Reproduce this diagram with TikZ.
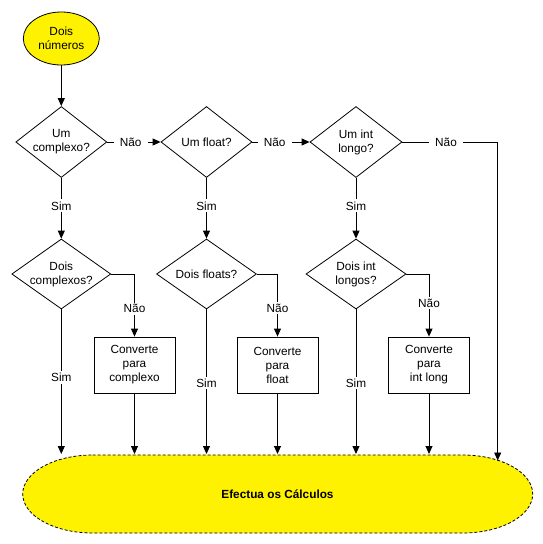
\documentclass[tikz,border=0pt]{standalone}
\usepackage{fontspec}
\setmainfont{Liberation Sans}
\usetikzlibrary{shapes.geometric,arrows.meta}
\begin{document}
\begin{tikzpicture}[x=1pt,y=-1pt,
  every node/.style={font=\fontsize{11.8pt}{14pt}\selectfont, text=black},
  startnode/.style={ellipse, draw=black, line width=0.8pt, fill=yellow, minimum width=76pt, minimum height=53pt, inner sep=0pt, align=center},
  dia/.style={diamond, draw=black, line width=0.8pt, fill=white, inner sep=0pt, align=center},
  procbox/.style={rectangle, draw=black, line width=0.8pt, fill=white, minimum width=81pt, minimum height=56pt, inner sep=0pt, align=center},
  lbl/.style={fill=white, inner xsep=6pt, inner ysep=2pt},
  conn/.style={draw=black, line width=0.9pt, -{Triangle[length=8pt,width=7pt]}},
  endshape/.style={draw=black, line width=0.8pt, dash pattern=on 3pt off 2pt, fill=yellow}
]
\useasboundingbox[fill=white] (0,0) rectangle (543,544);

% bottom terminal shape
\path[endshape] (92.7,455) -- (462.7,455)
  .. controls (501.36,455) and (532.7,472.46) .. (532.7,494)
  .. controls (532.7,515.54) and (501.36,533) .. (462.7,533)
  -- (92.7,533)
  .. controls (54.04,533) and (22.7,515.54) .. (22.7,494)
  .. controls (22.7,472.46) and (54.04,455) .. (92.7,455) -- cycle;
\node (calc) at (277.5,494) {\bfseries Efectua os Cálculos};

% nodes
\node[startnode] (start) at (61.3,38.5) {Dois\\números};
\node[dia, minimum width=91pt, minimum height=71pt, aspect=1.28] (d1) at (61.3,142) {Um\\complexo?};
\node[dia, minimum width=91pt, minimum height=71pt, aspect=1.28] (d2) at (206.5,142) {Um float?};
\node[dia, minimum width=92pt, minimum height=71pt, aspect=1.28] (d3) at (356,142) {Um int\\longo?};
\node[dia, minimum width=99pt, minimum height=70pt, aspect=1.41] (d4) at (61.3,274) {Dois\\complexos?};
\node[dia, minimum width=100pt, minimum height=70pt, aspect=1.41] (d5) at (206.5,274) {Dois floats?};
\node[dia, minimum width=100pt, minimum height=70pt, aspect=1.41] (d6) at (356,274) {Dois int\\longos?};
\node[procbox] (b1) at (134.5,365) {Converte\\para\\complexo};
\node[procbox] (b2) at (277.5,365) {Converte\\para\\float};
\node[procbox] (b3) at (429,365) {Converte\\para\\int long};

% arrow ends on the terminal
\coordinate (e1) at (61.3,454);
\coordinate (e2) at (134.5,454);
\coordinate (e3) at (206.5,454);
\coordinate (e4) at (277.5,454);
\coordinate (e5) at (356,454);
\coordinate (e6) at (429,454);
\coordinate (e7) at (497.7,460.5);

% connectors
\draw[conn] (start) -- (d1);
\draw[conn] (d1) -- node[lbl,pos=0.44]{Não} (d2);
\draw[conn] (d2) -- node[lbl,pos=0.39]{Não} (d3);
\draw[conn] (d3.east) -| node[lbl,pos=0.229]{Não} (e7);
\draw[conn] (d1) -- node[lbl,pos=0.46]{Sim} (d4);
\draw[conn] (d2) -- node[lbl,pos=0.46]{Sim} (d5);
\draw[conn] (d3) -- node[lbl,pos=0.46]{Sim} (d6);
\draw[conn] (d4.east) -| node[lbl,pos=0.778]{Não} (b1.north);
\draw[conn] (d5.east) -| node[lbl,pos=0.772]{Não} (b2.north);
\draw[conn] (d6.east) -| node[lbl,pos=0.733]{Não} (b3.north);
\draw[conn] (d4.south) -- node[lbl,pos=0.47]{Sim} (e1);
\draw[conn] (d5.south) -- node[lbl,pos=0.51]{Sim} (e3);
\draw[conn] (d6.south) -- node[lbl,pos=0.51]{Sim} (e5);
\draw[conn] (b1.south) -- (e2);
\draw[conn] (b2.south) -- (e4);
\draw[conn] (b3.south) -- (e6);
\end{tikzpicture}
\end{document}
